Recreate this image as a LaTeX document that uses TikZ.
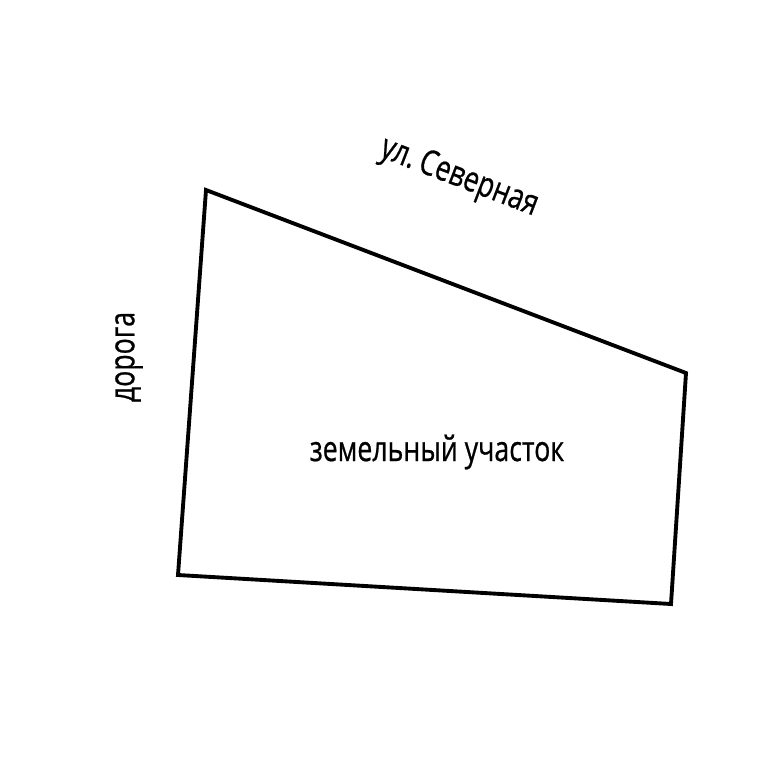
\documentclass[tikz,border=0pt]{standalone}
\usepackage{fontspec}
\setmainfont[FakeStretch=0.76, FakeBold=0.6]{Open Sans}
\usetikzlibrary{positioning}

\begin{document}
\begin{tikzpicture}[x=0.02cm, y=-0.02cm,
    plotline/.style={line width=2.2pt, line join=miter},
    lbl/.style={font=\fontsize{20}{24}\selectfont, inner sep=0pt}]
\useasboundingbox (0,0) rectangle (768,768);
\coordinate (nw) at (206,190);
\coordinate (ne) at (686,373);
\coordinate (se) at (671,604);
\coordinate (sw) at (178,575);
\draw[plotline] (nw) -- (ne) -- (se) -- (sw) -- cycle;
\node[lbl, rotate=-21] (street) at (459,178) {ул.\,Северная};
\node[lbl, rotate=90] (road) at (129,357) {дорога};
\node[lbl] (lot) at (437,452) {земельный участок};
\end{tikzpicture}
\end{document}
